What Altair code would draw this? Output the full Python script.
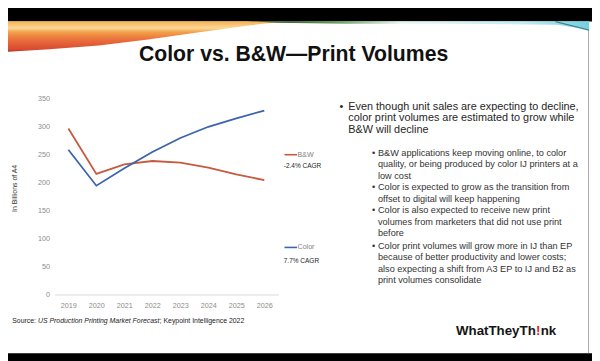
import altair as alt
import pandas as pd

# ---------------- data ----------------
years = ["2019", "2020", "2021", "2022", "2023", "2024", "2025", "2026"]
bw_values = [296, 215, 232, 238, 235, 226, 214, 204]
color_values = [258, 194, 225, 254, 279, 299, 314, 328]
series_names = ["B&W", "Color"]
series_colors = ["#c65a3f", "#3b64ad"]
cagr_labels = ["-2.4% CAGR", "7.7% CAGR"]
y_ticks = [0, 50, 100, 150, 200, 250, 300, 350]

title_text = "Color vs. B\u0026W\u2014Print Volumes"
y_title = "In Billions of A4"
main_bullet = [
    "Even though unit sales are expecting to decline,",
    "color print volumes are estimated to grow while",
    "B&W will decline",
]
sub_bullets = [
    ["B&W applications keep moving online, to color",
     "quality, or being produced by color IJ printers at a",
     "low cost"],
    ["Color is expected to grow as the transition from",
     "offset to digital will keep happening"],
    ["Color is also expected to receive new print",
     "volumes from marketers that did not use print",
     "before"],
    ["Color print volumes will grow more in IJ than EP",
     "because of better productivity and lower costs;",
     "also expecting a shift from A3 EP to IJ and B2 as",
     "print volumes consolidate"],
]
source_parts = ["Source: ", "US Production Printing Market Forecast", "; Keypoint Intelligence 2022"]
logo_parts = ["WhatTheyTh", "!", "nk"]

df = pd.DataFrame({
    "year": years * 2,
    "series": [series_names[0]] * len(years) + [series_names[1]] * len(years),
    "value": bw_values + color_values,
})
one = pd.DataFrame({"k": [0]})

# plot origin in page pixels (reference coordinates)
OX, OY = 55, 97


def tx(t, x, y, **kw):
    return alt.Chart(one).mark_text(**kw).encode(
        x=alt.value(x - OX), y=alt.value(y - OY), text=alt.value(t))


def rect(x1, x2, y1, y2, color):
    return alt.Chart(one).mark_rect(color=color).encode(
        x=alt.value(x1 - OX), x2=alt.value(x2 - OX),
        y=alt.value(y1 - OY), y2=alt.value(y2 - OY))


def shape_layer(points, cx, cy, half, grad):
    d = "M " + " L ".join(f"{(x - cx) / half:.4f} {(y - cy) / half:.4f}" for x, y in points) + " Z"
    return alt.Chart(one).mark_point(
        shape=d, size=(2 * half) ** 2, filled=True, fill=grad, opacity=1, strokeWidth=0
    ).encode(x=alt.value(cx - OX), y=alt.value(cy - OY))


layers = []
# slide frame
layers.append(rect(-10, 610, -10, 19.3, "#000000"))
layers.append(rect(-10, 610, 355.5, 370, "#000000"))
layers.append(alt.Chart(one).mark_rule(color="#a8a8a8", strokeWidth=1).encode(
    x=alt.value(596.5 - OX), y=alt.value(19 - OY), y2=alt.value(355.5 - OY)))

# orange swoosh
orange_pts = [(0, 19), (290, 19), (250, 23.5), (200, 30.5), (150, 37.5), (100, 43.5), (50, 47.5), (0, 50.5)]
orange_grad = alt.Gradient(gradient="linear", x1=0, y1=0, x2=0, y2=1, stops=[
    alt.GradientStop(offset=0, color="#f6b04e"),
    alt.GradientStop(offset=0.22, color="#fbd999"),
    alt.GradientStop(offset=0.35, color="#f3a048"),
    alt.GradientStop(offset=0.6, color="#ea6e3c"),
    alt.GradientStop(offset=0.92, color="#d8482f"),
    alt.GradientStop(offset=1, color="#8a2a1c"),
])
layers.append(shape_layer(orange_pts, 145, 19, 145, orange_grad))

# green / cyan swoosh
cyan_pts = [(250, 19), (597, 19), (597, 27.5), (565, 22.5), (450, 21.5), (350, 21.5), (280, 20.5)]
cyan_grad = alt.Gradient(gradient="linear", x1=0, y1=0, x2=1, y2=0, stops=[
    alt.GradientStop(offset=0, color="#1c3a16"),
    alt.GradientStop(offset=0.25, color="#5f9a58"),
    alt.GradientStop(offset=0.45, color="#e6f6f2"),
    alt.GradientStop(offset=0.8, color="#c3ecf2"),
    alt.GradientStop(offset=1, color="#74cfe0"),
])
layers.append(shape_layer(cyan_pts, 423.5, 19, 173.5, cyan_grad))
layers.append(alt.Chart(one).mark_rule(color="#3b8797", strokeWidth=1.3).encode(
    x=alt.value(563 - OX), x2=alt.value(597 - OX), y=alt.value(19.5 - OY), y2=alt.value(28 - OY)))

# title
layers.append(tx(title_text, 297.5, 59.3, font="Liberation Sans", fontSize=21.5, fontWeight="bold",
                 align="center", baseline="alphabetic", color="#111111"))

# lines
lines = alt.Chart(df).mark_line(strokeWidth=1.8).encode(
    x=alt.X("year:O", scale=alt.Scale(type="point", padding=0.5),
            axis=alt.Axis(title=None, labelAngle=0, ticks=False, domainColor="#d9d9d9",
                          labelColor="#8c8c8c", labelFontSize=7.3, labelFont="Liberation Sans",
                          labelPadding=7)),
    y=alt.Y("value:Q", scale=alt.Scale(domain=[0, 350]),
            axis=alt.Axis(values=y_ticks, grid=False, domain=False, ticks=False,
                          labelColor="#8c8c8c", labelFontSize=7.3, labelFont="Liberation Sans",
                          labelPadding=5, title=y_title, titleFontSize=7, titleFontWeight="normal",
                          titleFont="Liberation Sans", titleColor="#333333",
                          titleX=15 - OX, titleY=188 - OY, titleBaseline="middle", titleAngle=270,
                          titleAlign="center")),
    color=alt.Color("series:N", scale=alt.Scale(domain=series_names, range=series_colors), legend=None),
)
layers.append(lines)

# end-of-series labels
for name, col, cagr, ly, cy in zip(series_names, series_colors, cagr_labels, [154.3, 248.3], [165.7, 262.3]):
    layers.append(alt.Chart(one).mark_rule(color=col, strokeWidth=1.6).encode(
        x=alt.value(288.3 - OX), x2=alt.value(301 - OX), y=alt.value(ly - OY)))
    layers.append(tx(name, 301.5, ly, font="Liberation Sans", fontSize=7.2, align="left",
                     baseline="middle", color="#7f7f7f"))
    layers.append(tx(cagr, 287.5, cy, font="Liberation Sans", fontSize=6.6, align="left",
                     baseline="middle", color="#262626"))

# bullets (y = centre of first line)
layers.append(tx("\u2022", 344, 105.7, font="Liberation Sans", fontSize=11, align="left",
                 baseline="middle", color="#262626"))
layers.append(tx(main_bullet, 353, 105.7, font="Liberation Sans", fontSize=11, align="left",
                 baseline="middle", lineHeight=11.8, color="#262626"))
sub_first = [152.3, 187.3, 210.7, 246.7]
for lines_txt, first in zip(sub_bullets, sub_first):
    layers.append(tx("\u2022", 377, first, font="Liberation Sans", fontSize=9.3, align="left",
                     baseline="middle", color="#333333"))
    layers.append(tx(lines_txt, 383, first, font="Liberation Sans", fontSize=9.3, align="left",
                     baseline="middle", lineHeight=11.6, color="#333333"))

# source
layers.append(tx(source_parts[0], 12.3, 322.7, font="Liberation Sans", fontSize=7, align="left",
                 baseline="middle", color="#222222"))
layers.append(tx(source_parts[1], 38.4, 322.7, font="Liberation Sans", fontSize=7, align="left",
                 baseline="middle", fontStyle="italic", color="#222222"))
layers.append(tx(source_parts[2], 161.7, 322.7, font="Liberation Sans", fontSize=7, align="left",
                 baseline="middle", color="#222222"))

# logo
layers.append(tx(logo_parts[0], 543, 333.3, font="Liberation Sans", fontSize=13.5, fontWeight="bold",
                 align="right", baseline="middle", color="#151515"))
layers.append(tx(logo_parts[1], 545.6, 333.3, font="Liberation Sans", fontSize=13.5, fontWeight="bold",
                 align="center", baseline="middle", color="#e0262a"))
layers.append(tx(logo_parts[2], 548, 333.3, font="Liberation Sans", fontSize=13.5, fontWeight="bold",
                 align="left", baseline="middle", color="#151515"))

chart = alt.layer(*layers).properties(
    width=227, height=199,
    padding={"left": 47, "top": 89, "right": 318, "bottom": 65},
    autosize=alt.AutoSizeParams(type="none"),
    background="white",
).configure_view(stroke=None)

chart.save("out.html", embed_options={"renderer": "svg", "actions": False})
